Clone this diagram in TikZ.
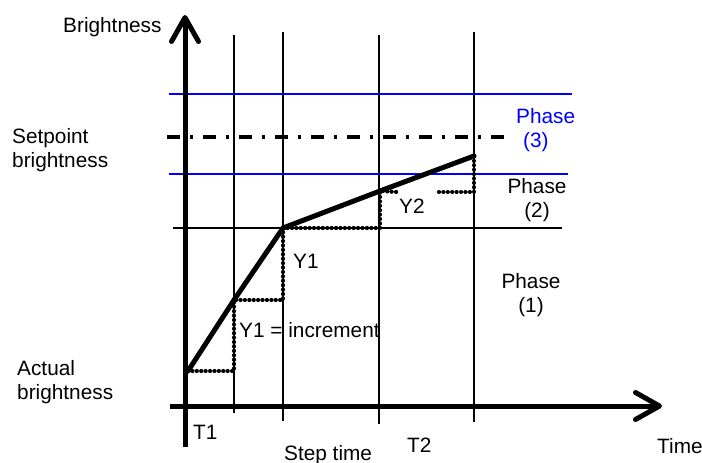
\documentclass[tikz,border=0pt]{standalone}
\usepackage{fontspec}
\setmainfont{Liberation Sans}
\usepackage{xcolor}
\usetikzlibrary{arrows.meta}
\definecolor{phaseblue}{RGB}{0,0,255}

\begin{document}
\begin{tikzpicture}[x=1pt, y=-1pt,
  every node/.style={inner sep=0pt, font=\fontsize{20.8}{24}\selectfont},
  lbl/.style={anchor=base west},
  axis/.style={line width=5pt, -{Straight Barb[length=24pt, width=27pt, round]}},
  grid/.style={line width=1.4pt},
  phaseline/.style={line width=1.8pt, phaseblue},
  setline/.style={line width=3.2pt, dash pattern=on 13pt off 10pt on 2.5pt off 10.5pt},
  ramp/.style={line width=5pt, line join=round, line cap=round},
  stepdots/.style={line width=4.2pt, line cap=round, dash pattern=on 0.01pt off 4.4pt}]
\useasboundingbox (0,0) rectangle (702,463);
\coordinate (P0) at (188,371);
\coordinate (P1) at (234,300);
\coordinate (P2) at (283,228);
\coordinate (P3) at (380,191);
\coordinate (P4) at (474,156);
\coordinate (Y2a) at (397,192);
\coordinate (Y2b) at (439,192);
\draw[grid] (234,35) -- (234,413);
\draw[grid] (283,32) -- (283,421);
\draw[grid] (379,35) -- (379,424);
\draw[grid] (474,32) -- (474,422);
\draw[phaseline] (169,94) -- (572,94);
\draw[phaseline] (169,174) -- (568,174);
\draw[grid] (173,228) -- (562,228);
\draw[setline] (167,137) -- (512,137);
\draw[stepdots] (P0) -- (P1 |- P0) -- (P1) -- (P2 |- P1) -- (P2)
  -- (P3 |- P2) -- (P3) -- (Y2a);
\draw[stepdots] (Y2b) -- (P4 |- Y2b) -- (P4);
\draw[ramp] (P0) -- (P1) -- (P2) -- (P3) -- (P4);
\draw[axis] (185,447) -- (185,15);
\draw[axis] (170,406) -- (662,406);
\node[lbl] (brightness) at (63,32) {Brightness};
\node[anchor=north west, align=left] (setpoint) at (12,128) {Setpoint\\brightness};
\node[anchor=north west, align=left] (actual) at (17,360) {Actual\\brightness};
\node[anchor=north west, align=left, text=phaseblue] (phase3) at (516,108) {Phase\\\hspace*{7pt}(3)};
\node[anchor=north, align=center] (phase2) at (537,178) {Phase\\(2)};
\node[anchor=north, align=center] (phase1) at (531,273) {Phase\\(1)};
\node[lbl] (y1) at (293,268) {Y1};
\node[lbl] (y1inc) at (239,337) {Y1 = increment};
\node[lbl] (y2) at (399,213) {Y2};
\node[lbl] (t1) at (193,439) {T1};
\node[lbl] (t2) at (407,452) {T2};
\node[lbl] (steptime) at (284,460) {Step time};
\node[lbl] (time) at (657,453) {Time};
\end{tikzpicture}
\end{document}
